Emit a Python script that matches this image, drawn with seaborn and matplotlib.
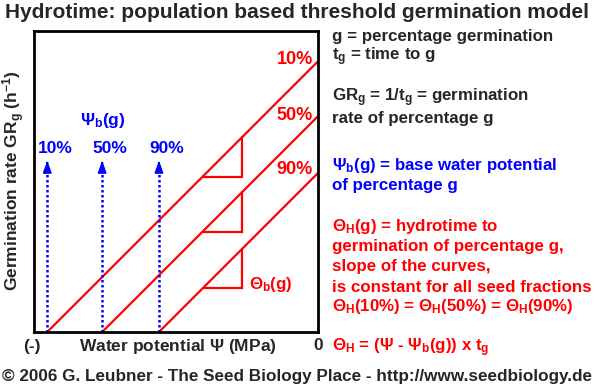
import pandas as pd
import matplotlib
matplotlib.use("Agg")
import matplotlib.pyplot as plt
import seaborn as sns

# seed fractions and their base water potentials (MPa)
fractions = ["10%", "50%", "90%"]
psi_b = [-1.43, -1.14, -0.84]
theta_h = 50.0           # hydrotime constant, MPa h (same for all fractions)
psi_max = 0.0            # lines run up to water potential 0
psi_lim = (-1.5, 0.0)
gr_lim = (0.0, 0.0318)
arrow_top = 0.0184       # GR reached by the blue base-potential arrows
tri_psi = [-0.61, -0.40]  # where the slope triangles sit

W, H = 595, 391
RED = "#ff0000"
BLUE = "#0000ff"


def gr(psi, pb):
    return (psi - pb) / theta_h


rows = []
for f, pb in zip(fractions, psi_b):
    rows.append({"fraction": f, "psi": pb, "gr": gr(pb, pb)})
    rows.append({"fraction": f, "psi": psi_max, "gr": gr(psi_max, pb)})
df = pd.DataFrame(rows)

sns.set_theme(style="white")
plt.rcParams["font.family"] = ["Liberation Sans", "DejaVu Sans"]
plt.rcParams["font.weight"] = "bold"
plt.rcParams["mathtext.fontset"] = "custom"
for k in ["rm", "it", "bf", "sf"]:
    plt.rcParams["mathtext." + k] = "Liberation Sans:bold"
plt.rcParams["mathtext.default"] = "rm"

fig = plt.figure(figsize=(W / 100, H / 100), dpi=100)
ax = fig.add_axes([34 / W, 1 - 332 / H, 284 / W, 301 / H])

sns.lineplot(data=df, x="psi", y="gr", hue="fraction",
             palette=[RED] * 3, legend=False, linewidth=1.6, ax=ax)

# slope triangles
for pb in psi_b:
    y0 = gr(tri_psi[0], pb)
    y1 = gr(tri_psi[1], pb)
    ax.plot([tri_psi[0], tri_psi[1], tri_psi[1]], [y0, y0, y1],
            color=RED, lw=1.6, solid_joinstyle="miter")

# base water potential arrows
for f, pb in zip(fractions, psi_b):
    ax.plot([pb, pb], [0, arrow_top - 0.0006], color=BLUE, lw=1.8,
            linestyle=(0, (1, 1)))
    ax.annotate("", xy=(pb, arrow_top), xytext=(pb, arrow_top - 0.0009),
                arrowprops=dict(arrowstyle="-|>,head_length=0.55,head_width=0.2",
                                color=BLUE, lw=1.5))

ax.set_xlim(psi_lim)
ax.set_ylim(gr_lim)
ax.set_xticks([])
ax.set_yticks([])
ax.set_xlabel("")
ax.set_ylabel("")
for s in ax.spines.values():
    s.set_color("black")
    s.set_linewidth(2)


def ftext(x, y, s, **kw):
    kw.setdefault("fontweight", "bold")
    kw.setdefault("va", "center")
    fig.text(x / W, 1 - y / H, s, **kw)


# title and labels
ftext(297, 12, "Hydrotime: population based threshold germination model",
      fontsize=15, ha="center")
ftext(14, 181, r"Germination rate GR$_g$ (h$^{-1}$)", fontsize=12.5,
      rotation=90, ha="center")
ftext(32, 346, "(-)", fontsize=12.5, ha="center")
ftext(178, 346, r"Water potential $\Psi$ (MPa)", fontsize=12.5, ha="center")
ftext(318, 346, "0", fontsize=12.5, ha="center")

# line labels
for f, y in zip(fractions, [59, 115, 169]):
    ftext(313, y, f, fontsize=13, color=RED, ha="right")
for f, pb in zip(fractions, psi_b):
    x = 34 + (pb - psi_lim[0]) / (psi_lim[1] - psi_lim[0]) * 284
    ftext(x + 8, 148, f, fontsize=12.5, color=BLUE, ha="center")
ftext(103, 121, r"$\Psi_b$(g)", fontsize=12.5, color=BLUE, ha="center")
ftext(249, 284, r"$\Theta_b$(g)", fontsize=12.2, color=RED, ha="left")

# right-hand legend text
fs = 12.2
ftext(332, 37, "g = percentage germination", fontsize=fs)
ftext(332, 57, r"t$_g$ = time to g", fontsize=fs)
ftext(332, 98, r"GR$_g$ = 1/t$_g$ = germination", fontsize=fs)
ftext(332, 118, "rate of percentage g", fontsize=fs)
ftext(332, 165, r"$\Psi_b$(g) = base water potential", fontsize=fs, color=BLUE)
ftext(332, 185, "of percentage g", fontsize=fs, color=BLUE)
red_lines = [
    (227, r"$\Theta_H$(g) = hydrotime to"),
    (247, "germination of percentage g,"),
    (267, "slope of the curves,"),
    (287, "is constant for all seed fractions"),
    (307, r"$\Theta_H$(10%) = $\Theta_H$(50%) = $\Theta_H$(90%)"),
    (348, r"$\Theta_H$ = ($\Psi$ - $\Psi_b$(g)) x t$_g$"),
]
for y, s in red_lines:
    ftext(332, y, s, fontsize=fs, color=RED)

ftext(297, 376, "\u00a9 2006 G. Leubner - The Seed Biology Place - http://www.seedbiology.de",
      fontsize=12.3, ha="center")

fig.savefig("out.png", dpi=100)
